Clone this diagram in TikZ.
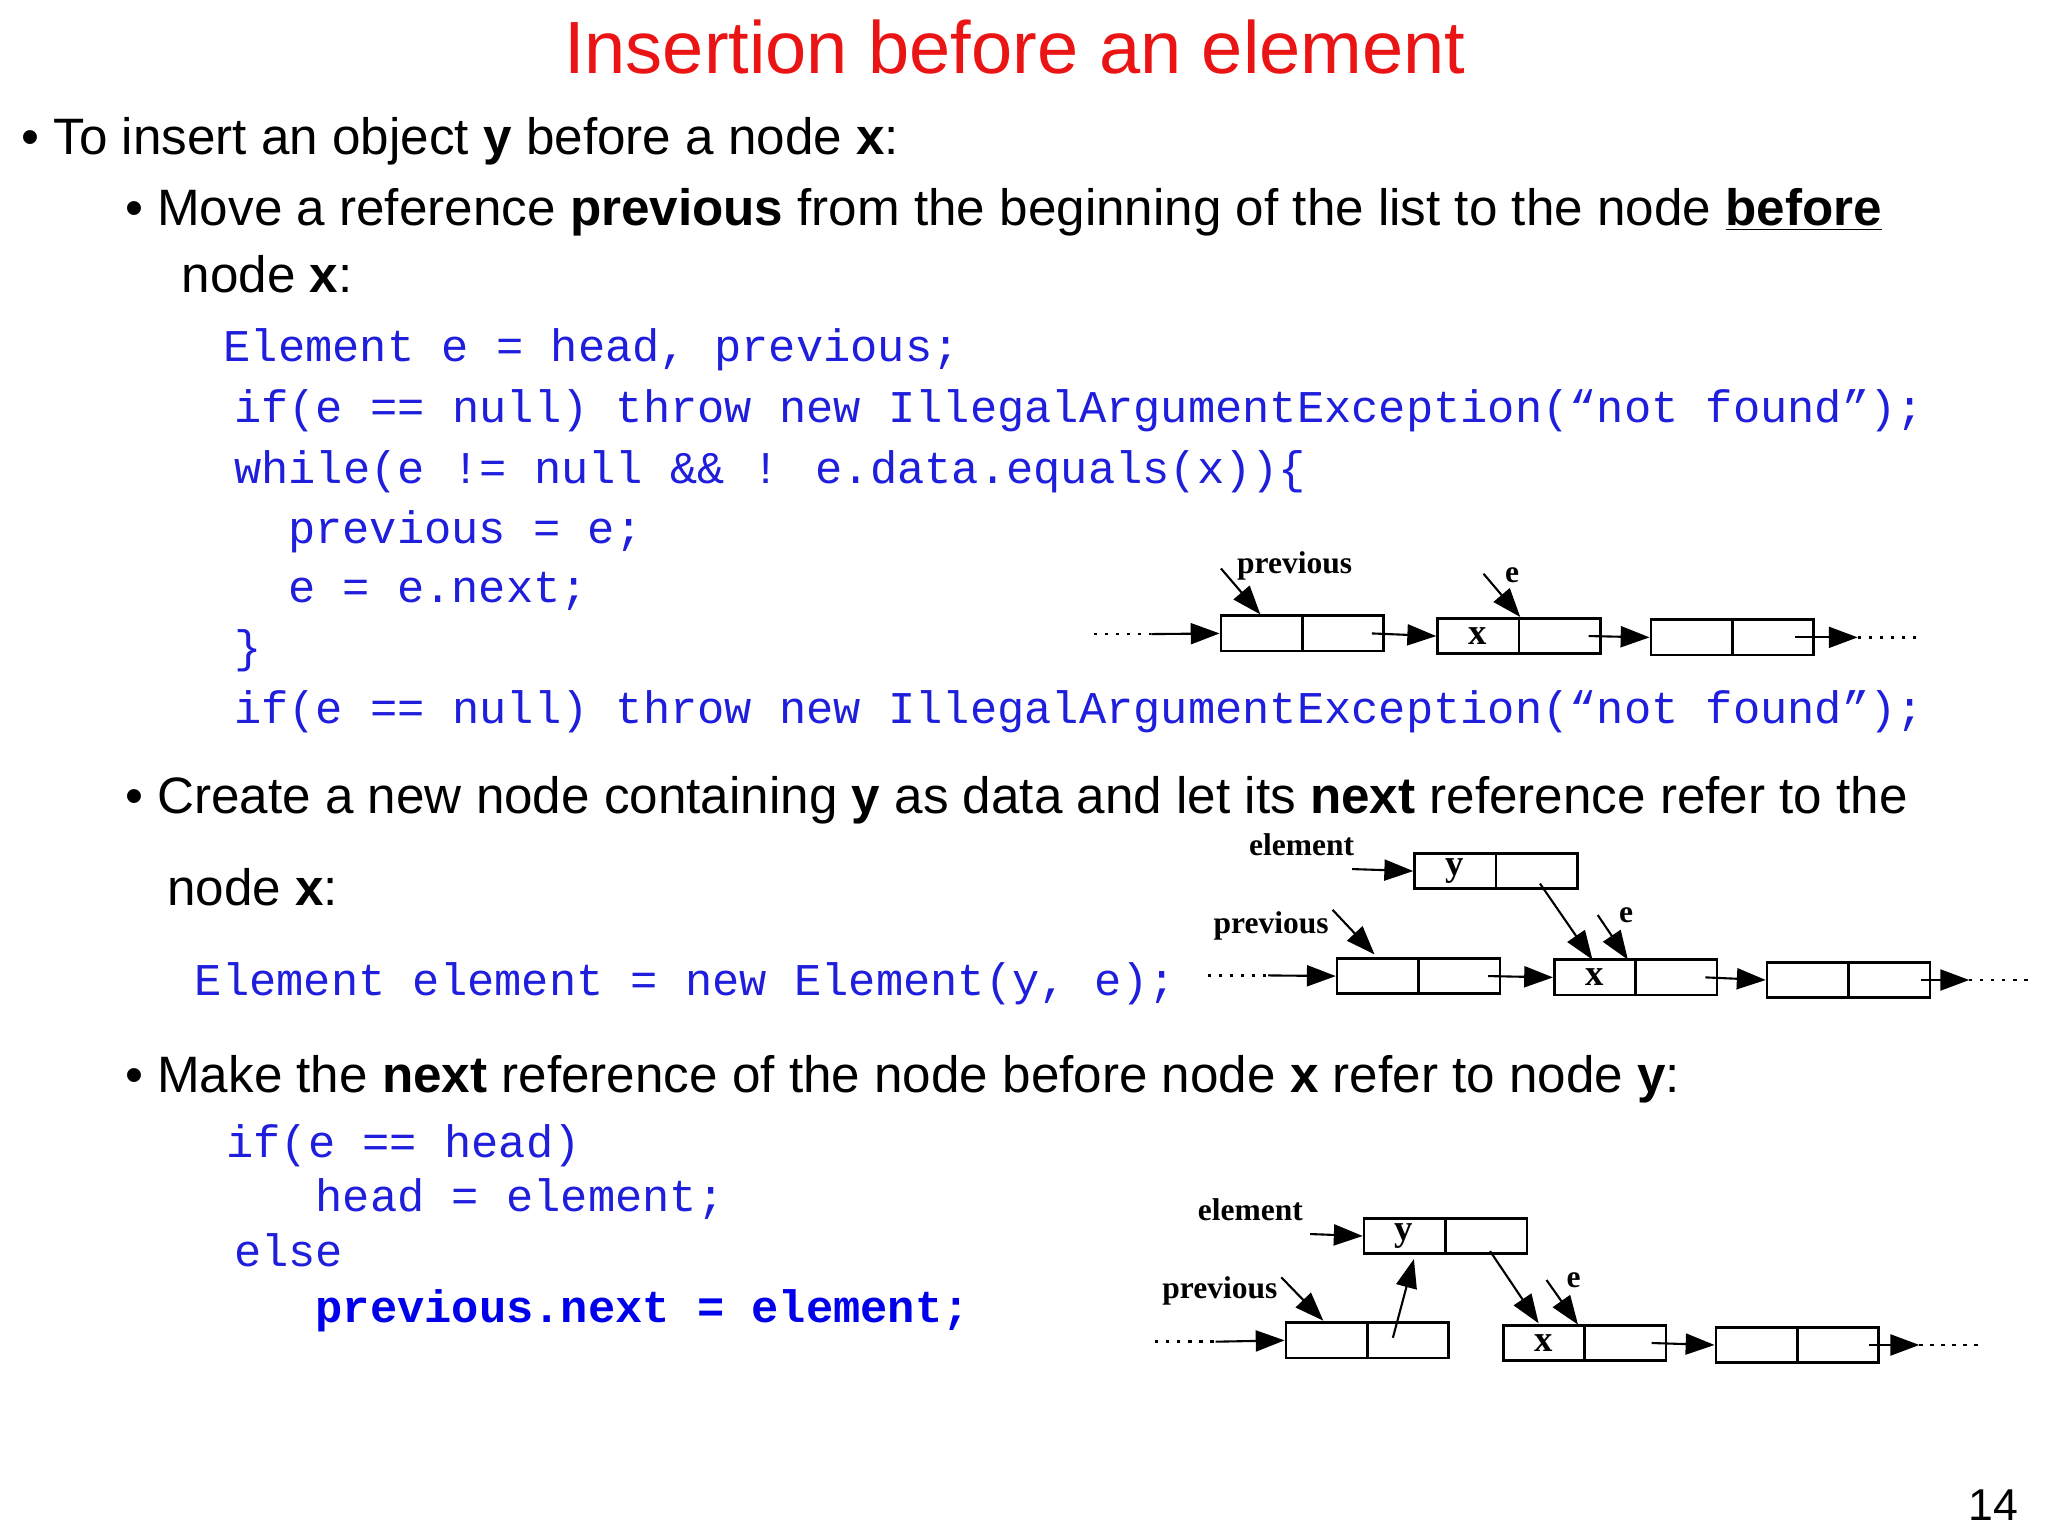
\documentclass[tikz,border=0pt]{standalone}
\usepackage{fontspec}
\setmainfont{Liberation Sans}
\newfontfamily\codefont{Liberation Mono}
\newfontfamily\diafont{Liberation Serif}
\usetikzlibrary{arrows.meta,calc}
\definecolor{titlered}{RGB}{235,20,20}
\definecolor{codeblue}{RGB}{30,30,220}
\definecolor{codebold}{RGB}{0,0,235}
\begin{document}
\begin{tikzpicture}[x=0.5pt,y=-0.5pt,
  txt/.style={anchor=base west,inner sep=0,font=\fontsize{19.5}{24}\selectfont},
  code/.style={anchor=base west,inner sep=0,text=codeblue,font=\codefont\fontsize{17.3}{20}\selectfont},
  lnode/.style={draw,line width=1pt,minimum width=62pt,minimum height=13.5pt,inner sep=0},
  lbl/.style={inner sep=0,font=\diafont\bfseries\fontsize{12}{13}\selectfont},
  ptr/.style={line width=0.8pt,-{Triangle[length=11pt,width=8pt]}},
  dots/.style={line width=1pt,dash pattern=on 1.2pt off 3pt}]
\useasboundingbox (0,0) rectangle (1560,1170);
\fill[white] (0,0) rectangle (1560,1170);
\node[inner sep=0,text=titlered,font=\fontsize{28.2}{34}\selectfont,anchor=base] (title) at (773,56) {Insertion before an element};
\node[txt] (b1) at (16,118) {\textbullet\ To insert an object \textbf{y} before a node \textbf{x}:};
\node[txt] (b2) at (95,172) {\textbullet\ Move a reference \textbf{previous} from the beginning of the list to the node \textbf{\underline{before}}};
\node[txt] (b2b) at (138,223) {node \textbf{x}:};
\node[code] (c1) at (170,275) {Element e = head, previous;};
\node[code] (c2) at (178,322) {if(e == null) throw new IllegalArgumentException(“not found”);};
\node[code] (c3) at (178,368) {while(e != null \&\& ! e.data.equals(x))\{};
\node[code] (c4) at (219,414) {previous = e;};
\node[code] (c5) at (219,459) {e = e.next;};
\node[code] (c6) at (178,505) {\}};
\node[code] (c7) at (178,551) {if(e == null) throw new IllegalArgumentException(“not found”);};
\node[txt] (b3) at (95,620) {\textbullet\ Create a new node containing \textbf{y} as data and let its \textbf{next} reference refer to the};
\node[txt] (b3b) at (127,690) {node \textbf{x}:};
\node[code] (c8) at (148,758) {Element element = new Element(y, e);};
\node[txt] (b4) at (95,832) {\textbullet\ Make the \textbf{next} reference of the node before node \textbf{x} refer to node \textbf{y}:};
\node[code] (c9) at (172,882) {if(e == head)};
\node[code] (c10) at (240,923) {head = element;};
\node[code] (c11) at (178,965) {else};
\node[code,text=codebold,font=\codefont\bfseries\fontsize{17.3}{20}\selectfont] (c12) at (240,1007) {previous.next = element;};
\node[inner sep=0,anchor=base east,font=\fontsize{17}{20}\selectfont] (pg) at (1538,1158) {14};

% ---------- diagram 1
\node[lnode] (a1) at (992,482.5) {};
\node[lnode] (a2) at (1157,484.5) {};
\node[lnode] (a3) at (1319.5,485.5) {};
\foreach \n in {a1,a2,a3} \draw[line width=1pt] (\n.north) -- (\n.south);
\node[lbl,font=\diafont\bfseries\fontsize{14}{15}\selectfont] (ax) at ($(a2.west)!0.25!(a2.east)$) {x};
\coordinate (as) at (833,483); \coordinate (as2) at (877,483);
\draw[dots] (as) -- (as2); \draw[ptr] (as2) -- (a1.west);
\draw[ptr] ($(a1.east)+(-10,0)$) -- (a2.west);
\draw[ptr] ($(a2.east)+(-10,0)$) -- (a3.west);
\coordinate (ae) at (1415,485.5); \coordinate (ae2) at (1460,485.5);
\draw[ptr] ($(a3.east)+(-15,0)$) -- (ae); \draw[dots] (ae) -- (ae2);
\node[lbl,anchor=base west] (apl) at (942,437) {previous};
\coordinate (apf) at (930,433); \coordinate (apt) at (960,468);
\draw[ptr] (apf) -- (apt);
\node[lbl,anchor=base west] (ael) at (1146,444) {e};
\coordinate (aef) at (1130,437); \coordinate (aet) at (1158,470);
\draw[ptr] (aef) -- (aet);

% ---------- diagram 2
\node[lnode] (dy) at (1139.5,663.5) {};
\node[lnode] (d1) at (1080.5,743.5) {};
\node[lnode] (d2) at (1246,744.5) {};
\node[lnode] (d3) at (1408,746.5) {};
\foreach \n in {dy,d1,d2,d3} \draw[line width=1pt] (\n.north) -- (\n.south);
\node[lbl,font=\diafont\bfseries\fontsize{14}{15}\selectfont] (dyt) at ($(dy.west)!0.25!(dy.east)$) {y};
\node[lbl,font=\diafont\bfseries\fontsize{14}{15}\selectfont] (dxt) at ($(d2.west)!0.25!(d2.east)$) {x};
\coordinate (ds) at (920,743); \coordinate (ds2) at (966,743);
\draw[dots] (ds) -- (ds2); \draw[ptr] (ds2) -- (d1.west);
\draw[ptr] ($(d1.east)+(-10,0)$) -- (d2.west);
\draw[ptr] ($(d2.east)+(-10,0)$) -- (d3.west);
\coordinate (de) at (1500,746.5); \coordinate (de2) at (1548,746.5);
\draw[ptr] ($(d3.east)+(-8,0)$) -- (de); \draw[dots] (de) -- (de2);
\node[lbl,anchor=base west] (del) at (951,652) {element};
\coordinate (delf) at (1030,662);
\draw[ptr] (delf) -- (dy.west);
\node[lbl,anchor=base west] (dpl) at (924,711) {previous};
\coordinate (dpf) at (1015,693); \coordinate (dpt) at (1047,727);
\draw[ptr] (dpf) -- (dpt);
\node[lbl,anchor=base west] (dell) at (1233,703) {e};
\coordinate (def) at (1217,697); \coordinate (det) at (1240,731);
\draw[ptr] (def) -- (det);
\coordinate (dyf) at (1173,673); \coordinate (dyt2) at (1213,731);
\draw[ptr] (dyf) -- (dyt2);

% ---------- diagram 3
\node[lnode] (fy) at (1101,941.5) {};
\node[lnode] (f1) at (1041.5,1021) {};
\node[lnode] (f2) at (1207,1023) {};
\node[lnode] (f3) at (1369,1024.5) {};
\foreach \n in {fy,f1,f2,f3} \draw[line width=1pt] (\n.north) -- (\n.south);
\node[lbl,font=\diafont\bfseries\fontsize{14}{15}\selectfont] (fyt) at ($(fy.west)!0.25!(fy.east)$) {y};
\node[lbl,font=\diafont\bfseries\fontsize{14}{15}\selectfont] (fxt) at ($(f2.west)!0.25!(f2.east)$) {x};
\coordinate (fs) at (880,1022); \coordinate (fs2) at (926,1022);
\draw[dots] (fs) -- (fs2); \draw[ptr] (fs2) -- (f1.west);
\coordinate (fuf) at (1061,1019); \coordinate (fut) at (1077,959);
\draw[ptr] (fuf) -- (fut);
\draw[ptr] ($(f2.east)+(-12,0)$) -- (f3.west);
\coordinate (fe) at (1462,1024.5); \coordinate (fe2) at (1510,1024.5);
\draw[ptr] ($(f3.east)+(-8,0)$) -- (fe); \draw[dots] (fe) -- (fe2);
\node[lbl,anchor=base west] (fel) at (912,930) {element};
\coordinate (felf) at (998,940);
\draw[ptr] (felf) -- (fy.west);
\node[lbl,anchor=base west] (fpl) at (885,989) {previous};
\coordinate (fpf) at (976,973); \coordinate (fpt) at (1008,1006);
\draw[ptr] (fpf) -- (fpt);
\node[lbl,anchor=base west] (fell) at (1193,981) {e};
\coordinate (fef) at (1178,975); \coordinate (fet) at (1202,1009);
\draw[ptr] (fef) -- (fet);
\coordinate (fyf) at (1135,953); \coordinate (fyt2) at (1172,1008);
\draw[ptr] (fyf) -- (fyt2);
\end{tikzpicture}
\end{document}
